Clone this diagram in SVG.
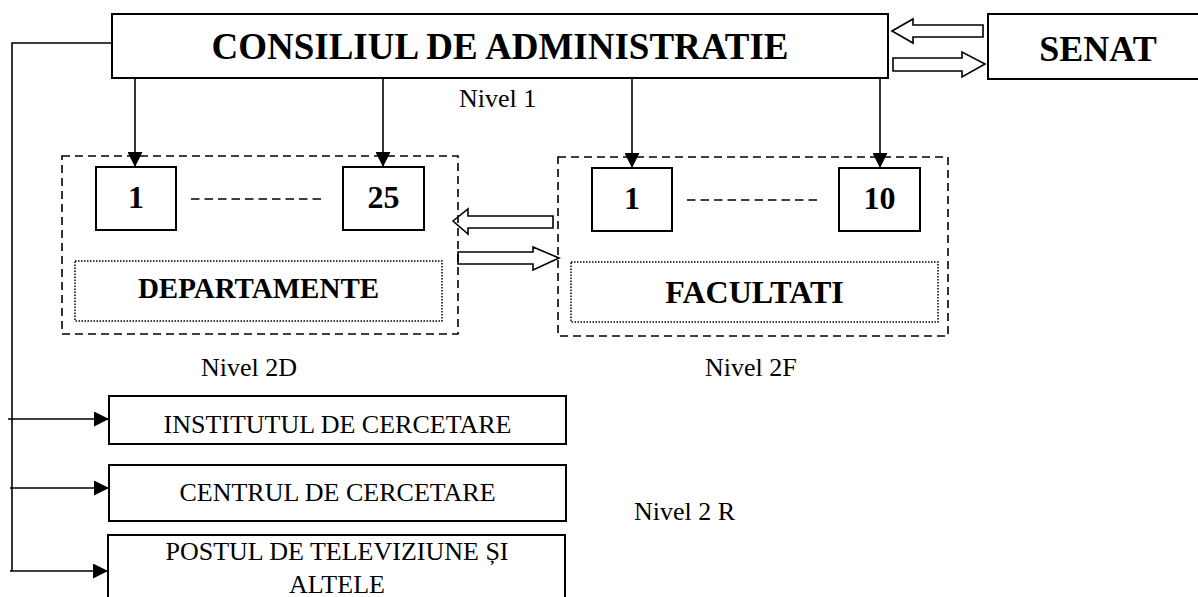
<svg xmlns="http://www.w3.org/2000/svg" width="1198" height="597" viewBox="0 0 1198 597">
<style>
.box{fill:#fff;stroke:#000;stroke-width:2}
.dash{fill:none;stroke:#000;stroke-width:1.6;stroke-dasharray:8 5}
.dot{fill:none;stroke:#000;stroke-width:1.5;stroke-dasharray:1.5 1.5}
.ln{fill:none;stroke:#000;stroke-width:1.6}
.hollow{fill:#fff;stroke:#000;stroke-width:1.6;stroke-linejoin:miter}
.b{font-family:"Liberation Serif","Times New Roman",serif;font-weight:bold;fill:#000}
.r{font-family:"Liberation Serif","Times New Roman",serif;font-size:26px;fill:#000}
</style>
<defs>
<marker id="ah" markerUnits="userSpaceOnUse" markerWidth="15" markerHeight="15" refX="15" refY="7.5" orient="auto" viewBox="0 0 15 15">
<path d="M0,0 L15,7.5 L0,15 z" fill="#000"/>
</marker>
</defs>

<g id="connectors">
<polyline class="ln" points="112,43 12,43 12,571"/>
<line class="ln" x1="135" y1="78" x2="135" y2="167" marker-end="url(#ah)"/>
<line class="ln" x1="383" y1="78" x2="383" y2="167" marker-end="url(#ah)"/>
<line class="ln" x1="632" y1="78" x2="632" y2="168" marker-end="url(#ah)"/>
<line class="ln" x1="880" y1="78" x2="880" y2="168" marker-end="url(#ah)"/>
<line class="ln" x1="8" y1="419" x2="109" y2="419" marker-end="url(#ah)"/>
<line class="ln" x1="10" y1="488" x2="109" y2="488" marker-end="url(#ah)"/>
<line class="ln" x1="10" y1="571" x2="108" y2="571" marker-end="url(#ah)"/>
<polygon class="hollow" points="892,31 913,19 913,25 983,25 983,37 913,37 913,43"/>
<polygon class="hollow" points="893,58 962,58 962,52 985,64 962,77 962,71 893,71"/>
<polygon class="hollow" points="453,221 468,209 468,216 553,216 553,228 468,228 468,234"/>
<polygon class="hollow" points="458,252 533,252 533,247 559,258 533,270 533,264 458,264"/>
</g>

<g id="consiliu">
<rect class="box" x="112" y="14" width="776" height="64"/>
<text class="b" x="500" y="59" font-size="37" text-anchor="middle">CONSILIUL DE ADMINISTRATIE</text>
</g>
<g id="senat">
<rect class="box" x="988" y="14" width="222" height="65"/>
<text class="b" x="1098" y="61" font-size="36" text-anchor="middle">SENAT</text>
</g>
<g id="nivel1"><text class="r" x="459" y="107">Nivel 1</text></g>

<g id="departamente">
<rect class="dash" x="62" y="156" width="396" height="178"/>
<rect class="box" x="96" y="167" width="80" height="63"/>
<text class="b" x="136" y="208" font-size="32" text-anchor="middle">1</text>
<line class="ln" x1="191" y1="199" x2="325" y2="199" stroke-dasharray="8.5 5"/>
<rect class="box" x="343" y="167" width="81" height="63"/>
<text class="b" x="383.5" y="208" font-size="32" text-anchor="middle">25</text>
<rect class="dot" x="75" y="261" width="367" height="60"/>
<text class="b" x="258.5" y="298" font-size="29" text-anchor="middle">DEPARTAMENTE</text>
</g>

<g id="facultati">
<rect class="dash" x="558" y="157" width="390" height="179"/>
<rect class="box" x="592" y="168" width="80" height="63"/>
<text class="b" x="632" y="209" font-size="32" text-anchor="middle">1</text>
<line class="ln" x1="687" y1="200" x2="821" y2="200" stroke-dasharray="8.5 5"/>
<rect class="box" x="839" y="168" width="81" height="63"/>
<text class="b" x="879.5" y="209" font-size="32" text-anchor="middle">10</text>
<rect class="dot" x="571" y="262" width="367" height="60"/>
<text class="b" x="754.5" y="303" font-size="32" text-anchor="middle">FACULTATI</text>
</g>

<g id="nivel2d"><text class="r" x="201" y="376">Nivel 2D</text></g>
<g id="nivel2f"><text class="r" x="705" y="376">Nivel 2F</text></g>
<g id="nivel2r"><text class="r" x="634" y="520">Nivel 2 R</text></g>

<g id="institutul">
<rect class="box" x="109" y="396" width="457" height="48"/>
<text class="r" x="337.5" y="433" text-anchor="middle">INSTITUTUL DE CERCETARE</text>
</g>
<g id="centrul">
<rect class="box" x="109" y="465" width="457" height="56"/>
<text class="r" x="337.5" y="501" text-anchor="middle">CENTRUL DE CERCETARE</text>
</g>
<g id="postul">
<rect class="box" x="108" y="535" width="457" height="80"/>
<text class="r" x="337" y="560" text-anchor="middle">POSTUL DE TELEVIZIUNE ȘI</text>
<text class="r" x="337" y="593" text-anchor="middle">ALTELE</text>
</g>
</svg>
